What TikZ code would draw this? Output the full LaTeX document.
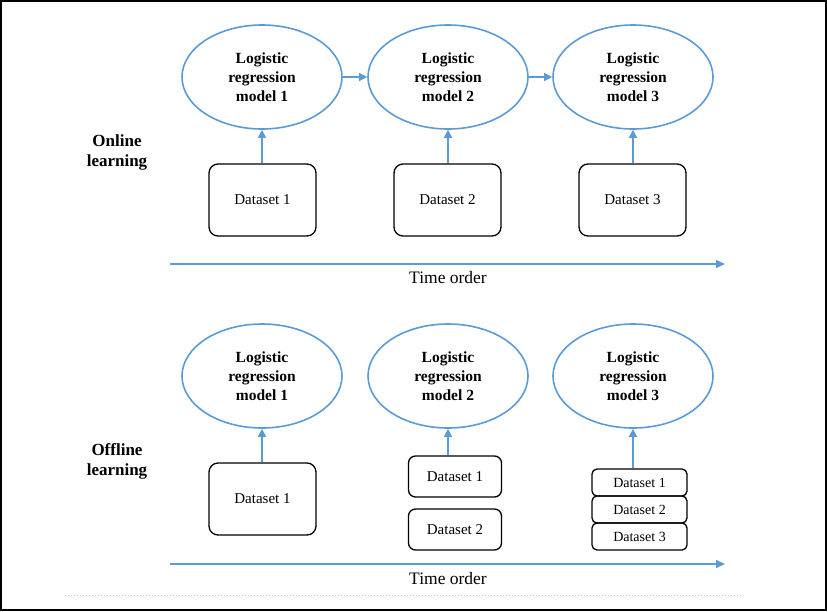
\documentclass[tikz,border=0pt]{standalone}
\usepackage{fontspec}
\setmainfont{Liberation Serif}
\usetikzlibrary{arrows.meta, positioning, shapes.geometric}
\definecolor{flowcol}{RGB}{91,155,213}
\definecolor{rulecol}{RGB}{200,200,200}

\begin{document}
\begin{tikzpicture}[
  x=1pt, y=-1pt,
  model/.style={ellipse, draw=flowcol, line width=1.6pt,
                minimum width=160pt, minimum height=104pt, inner sep=0pt,
                align=center, font=\fontsize{15.5}{19}\selectfont\bfseries},
  data/.style={draw=black, line width=1.3pt, rounded corners=9pt,
               minimum width=107pt, minimum height=72pt,
               font=\fontsize{15}{18}\selectfont},
  halfdata/.style={data, minimum width=93pt, minimum height=41pt,
                   rounded corners=7pt},
  thindata/.style={data, minimum width=95pt, minimum height=27pt,
                   rounded corners=5pt, font=\fontsize{14}{16}\selectfont},
  mode/.style={align=center, font=\fontsize{17}{20}\selectfont\bfseries},
  timelabel/.style={font=\fontsize{17.5}{20}\selectfont},
  arr/.style={-{Triangle[length=8pt, width=8pt]}, line width=1.2pt, flowcol},
  timeline/.style={-{Triangle[length=9pt, width=8pt]}, line width=1.5pt, flowcol}
]
  \useasboundingbox (0,0) rectangle (827,611);
  \draw[line width=2pt] (1,1) rectangle (826,610);

  % online learning
  \node[mode] (online) at (117,152) {Online\\learning};
  \node[model] (m1) at (262,77) {Logistic\\regression\\model 1};
  \node[model] (m2) at (448,77) {Logistic\\regression\\model 2};
  \node[model] (m3) at (633,77) {Logistic\\regression\\model 3};
  \node[data] (d1) at (262.5,200) {Dataset 1};
  \node[data] (d2) at (447.5,200) {Dataset 2};
  \node[data] (d3) at (632.5,200) {Dataset 3};

  \draw[arr] (m1.east) -- (m2.west);
  \draw[arr] (m2.east) -- (m3.west);
  \draw[arr] (d1.north -| m1) -- (m1.south);
  \draw[arr] (d2.north -| m2) -- (m2.south);
  \draw[arr] (d3.north -| m3) -- (m3.south);

  \coordinate (ts1) at (170,264);
  \coordinate (te1) at (725,264);
  \draw[timeline] (ts1) -- (te1);
  \node[timelabel] (time1) at (448,278) {Time order};

  % offline learning
  \node[mode] (offline) at (117,461) {Offline\\learning};
  \node[model] (n1) at (262,376) {Logistic\\regression\\model 1};
  \node[model] (n2) at (448,376) {Logistic\\regression\\model 2};
  \node[model] (n3) at (633,376) {Logistic\\regression\\model 3};
  \node[data] (b1) at (262.5,499) {Dataset 1};
  \node[halfdata] (b2a) at (455,476.5) {Dataset 1};
  \node[halfdata] (b2b) at (455,529.5) {Dataset 2};
  \node[thindata] (s1) at (639.5,482.5) {Dataset 1};
  \node[thindata] (s2) at (639.5,509.5) {Dataset 2};
  \node[thindata] (s3) at (639.5,536.5) {Dataset 3};

  \draw[arr] (b1.north -| n1) -- (n1.south);
  \draw[arr] (b2a.north -| n2) -- (n2.south);
  \draw[arr] (s1.north -| n3) -- (n3.south);

  \coordinate (ts2) at (170,564);
  \coordinate (te2) at (725,564);
  \draw[timeline] (ts2) -- (te2);
  \node[timelabel] (time2) at (448,579) {Time order};

  \draw[rulecol, line width=1pt, dotted] (65,595) -- (743,595);
\end{tikzpicture}
\end{document}
